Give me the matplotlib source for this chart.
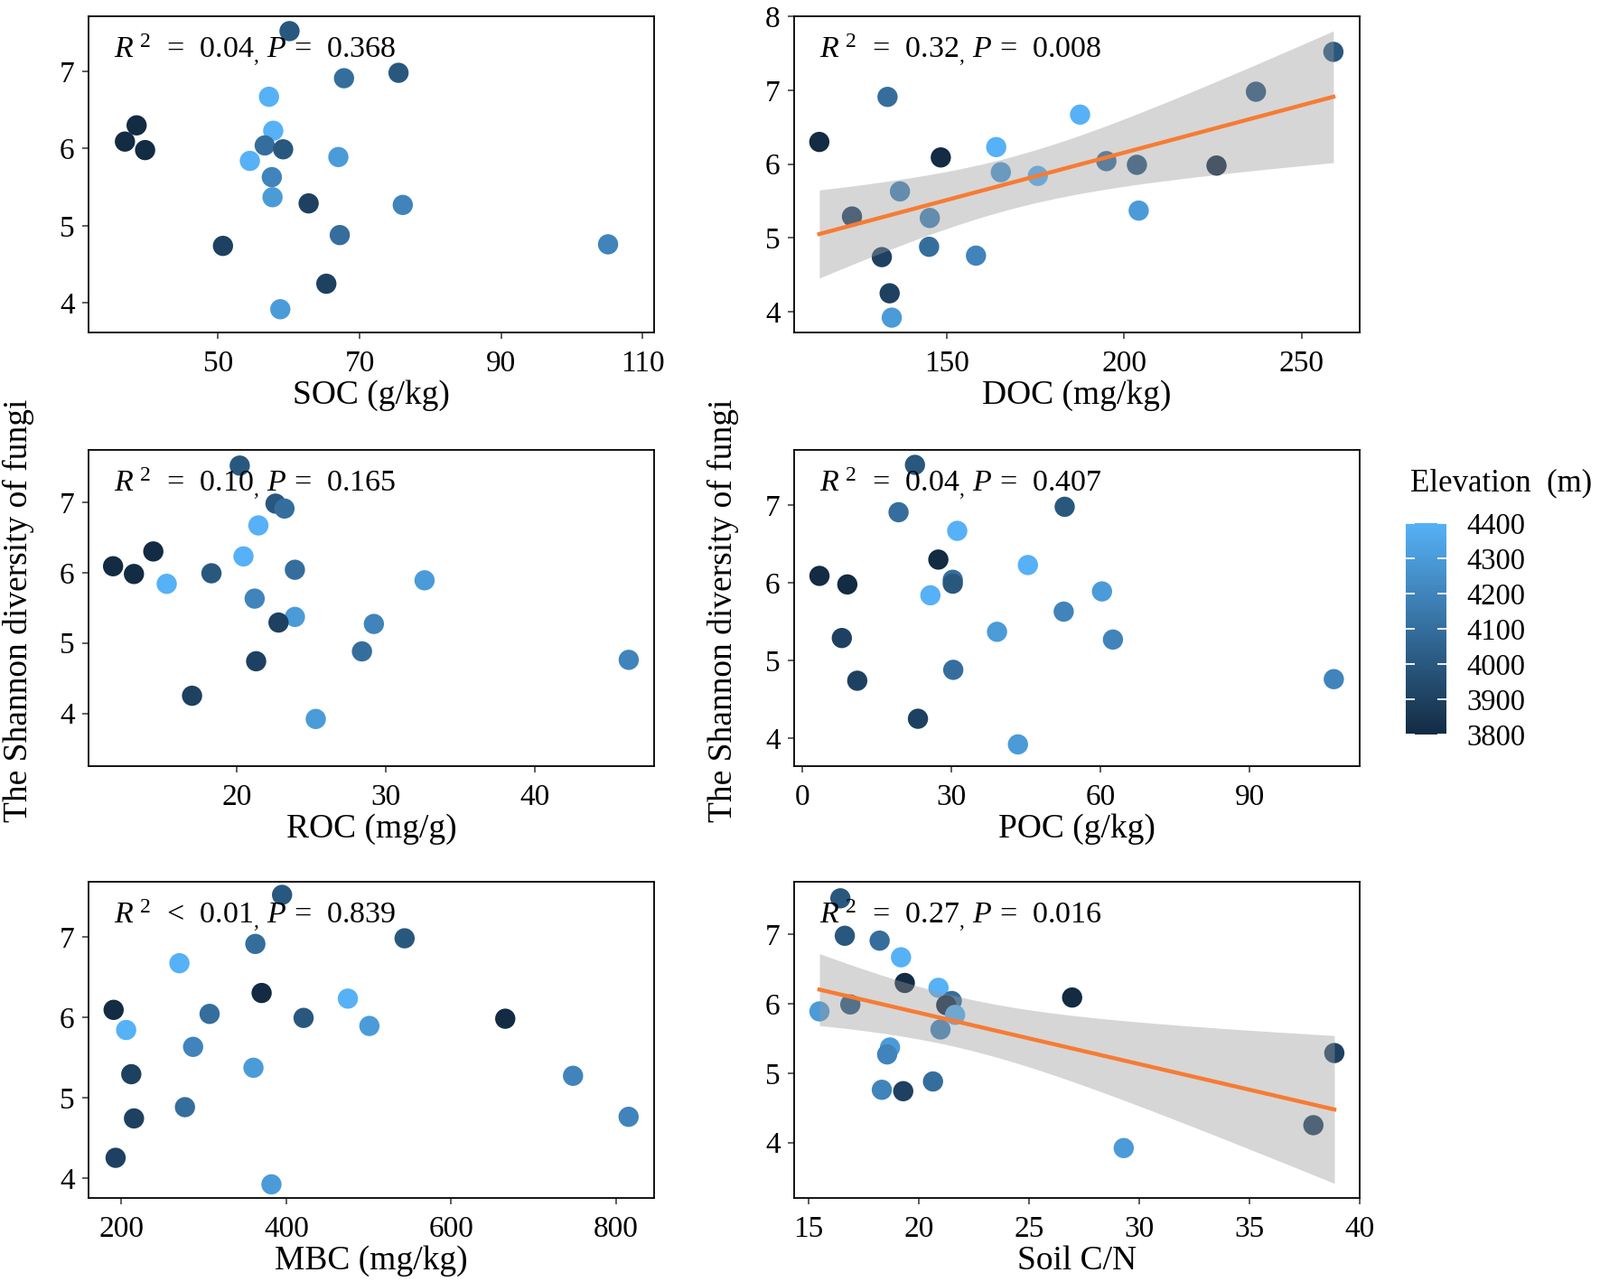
import numpy as np
import matplotlib
matplotlib.use('Agg')
import matplotlib.pyplot as plt
from matplotlib.colors import LinearSegmentedColormap, Normalize

plt.rcParams['font.family'] = ['Liberation Serif', 'DejaVu Serif']
plt.rcParams['mathtext.fontset'] = 'custom'
plt.rcParams['mathtext.rm'] = 'Liberation Serif'
plt.rcParams['mathtext.it'] = 'Liberation Serif:italic'

# one entry per soil sample (same order in every array)
shannon = [7.52, 6.98, 6.91, 6.67, 6.30, 6.23, 6.09, 6.04, 5.99, 5.98, 5.89,
           5.84, 5.63, 5.37, 5.29, 5.27, 4.88, 4.76, 4.74, 4.25, 3.92]
elevation = [4000, 4000, 4100, 4400, 3800, 4400, 3800, 4100, 4000, 3800, 4300,
             4400, 4200, 4300, 3900, 4200, 4100, 4200, 3900, 3900, 4300]
soc = [60.1, 75.5, 67.8, 57.2, 38.5, 57.8, 36.85, 56.6, 59.2, 39.7, 67.0,
       54.5, 57.6, 57.7, 62.8, 76.1, 67.2, 105.1, 50.7, 65.3, 58.8]
doc = [258.9, 237.1, 133.4, 187.6, 114.2, 164.0, 148.4, 195.0, 203.6, 226.0, 165.3,
       175.7, 136.9, 204.1, 123.4, 145.3, 145.1, 158.3, 131.8, 134.0, 134.6]
roc = [20.2, 22.6, 23.2, 21.45, 14.4, 20.45, 11.7, 23.9, 18.3, 13.1, 32.6,
       15.3, 21.2, 23.9, 22.8, 29.2, 28.4, 46.3, 21.3, 17.0, 25.3]
poc = [22.7, 52.8, 19.4, 31.2, 27.4, 45.4, 3.5, 30.3, 30.3, 9.1, 60.3,
       25.8, 52.6, 39.2, 8.0, 62.5, 30.4, 106.9, 11.1, 23.3, 43.4]
mbc = [394.8, 543.4, 362.4, 270.3, 370.0, 474.6, 190.5, 306.9, 420.9, 665.5, 500.7,
       205.7, 286.9, 360.1, 211.9, 747.7, 277.0, 815.1, 215.2, 192.9, 381.9]
soil_cn = [16.45, 16.65, 18.23, 19.2, 19.37, 20.9, 26.96, 21.5, 16.9, 21.25, 15.5,
           21.65, 20.99, 18.7, 38.85, 18.57, 20.65, 18.33, 19.3, 37.9, 29.3]

xlabels = ['SOC (g/kg)', 'DOC (mg/kg)', 'ROC (mg/g)', 'POC (g/kg)', 'MBC (mg/kg)', 'Soil C/N']
r2_text = ['=  0.04', '=  0.32', '=  0.10', '=  0.04', '<  0.01', '=  0.27']
p_text = ['0.368', '0.008', '0.165', '0.407', '0.839', '0.016']
xticks = [[50, 70, 90, 110], [150, 200, 250], [20, 30, 40], [0, 30, 60, 90],
          [200, 400, 600, 800], [15, 20, 25, 30, 35, 40]]
yticks = [[4, 5, 6, 7], [4, 5, 6, 7, 8], [4, 5, 6, 7], [4, 5, 6, 7],
          [4, 5, 6, 7], [4, 5, 6, 7]]
xlims = [(31.7, 111.6), (107.1, 266.3), (10.05, 48.0), (-1.6, 112.1), (160, 846), (14.35, 40.0)]
ylims = [(3.62, 7.71), (3.72, 7.99), (3.25, 7.74), (3.64, 7.71), (3.75, 7.68), (3.20, 7.755)]
has_fit = [False, True, False, False, False, True]
xdata = [soc, doc, roc, poc, mbc, soil_cn]

cmap = LinearSegmentedColormap.from_list('elev', ['#132B43', '#56B1F7'])
norm = Normalize(vmin=3800, vmax=4400)

fig = plt.figure(figsize=(17.71, 14.19), dpi=100)

lefts = [0.0553, 0.4963]
bottoms = [0.7407, 0.4024, 0.0655]
w, h = 0.3535, 0.2465

y = np.array(shannon)
for i in range(6):
    ax = fig.add_axes([lefts[i % 2], bottoms[i // 2], w, h])
    x = np.array(xdata[i])
    ax.scatter(x, y, c=elevation, cmap=cmap, norm=norm, s=260, edgecolors='none', zorder=2)

    if has_fit[i]:
        # linear fit with 95% confidence band (t for df = 19)
        n = len(x)
        b, a = np.polyfit(x, y, 1)
        xs = np.linspace(x.min(), x.max(), 100)
        yhat = a + b * xs
        s = np.sqrt(np.sum((y - (a + b * x)) ** 2) / (n - 2))
        se = s * np.sqrt(1 / n + (xs - x.mean()) ** 2 / np.sum((x - x.mean()) ** 2))
        t = 2.093
        ax.fill_between(xs, yhat - t * se, yhat + t * se, color='#999999', alpha=0.4,
                        linewidth=0, zorder=3)
        ax.plot(xs, yhat, color='#F77B33', lw=3.2, zorder=4)

    ax.set_xlim(xlims[i])
    ax.set_ylim(ylims[i])
    ax.set_xticks(xticks[i])
    ax.set_yticks(yticks[i])
    ax.tick_params(labelsize=24, length=5, width=1.1, color='#333333')
    ax.tick_params(axis='x', pad=9)
    ax.tick_params(axis='y', pad=6)
    for sp in ax.spines.values():
        sp.set_linewidth(1.3)
    ax.set_xlabel(xlabels[i], fontsize=27, labelpad=2)
    label = r'$R^{\ 2}$  ' + r2_text[i] + r'$_{,}$ $P$ =  ' + p_text[i]
    ax.text(0.045, 0.895, label, transform=ax.transAxes, fontsize=24.5,
            ha='left', va='center', zorder=5)

# shared y labels for each column
fig.text(0.0115, 0.524, 'The Shannon diversity of fungi', rotation=90,
         ha='center', va='center', fontsize=27)
fig.text(0.4517, 0.524, 'The Shannon diversity of fungi', rotation=90,
         ha='center', va='center', fontsize=27)

# colour bar
cax = fig.add_axes([0.8786, 0.4271, 0.0254, 0.1649])
sm = plt.cm.ScalarMappable(cmap=cmap, norm=norm)
cbar = fig.colorbar(sm, cax=cax, ticks=[3800, 3900, 4000, 4100, 4200, 4300, 4400])
cbar.outline.set_visible(False)
cax.tick_params(direction='in', length=7, width=1.3, color='white',
                left=True, right=True, labelsize=23.5, pad=16)
fig.text(0.8814, 0.623, 'Elevation  (m)', ha='left', va='center', fontsize=25)

fig.savefig('out.png', dpi=100)
